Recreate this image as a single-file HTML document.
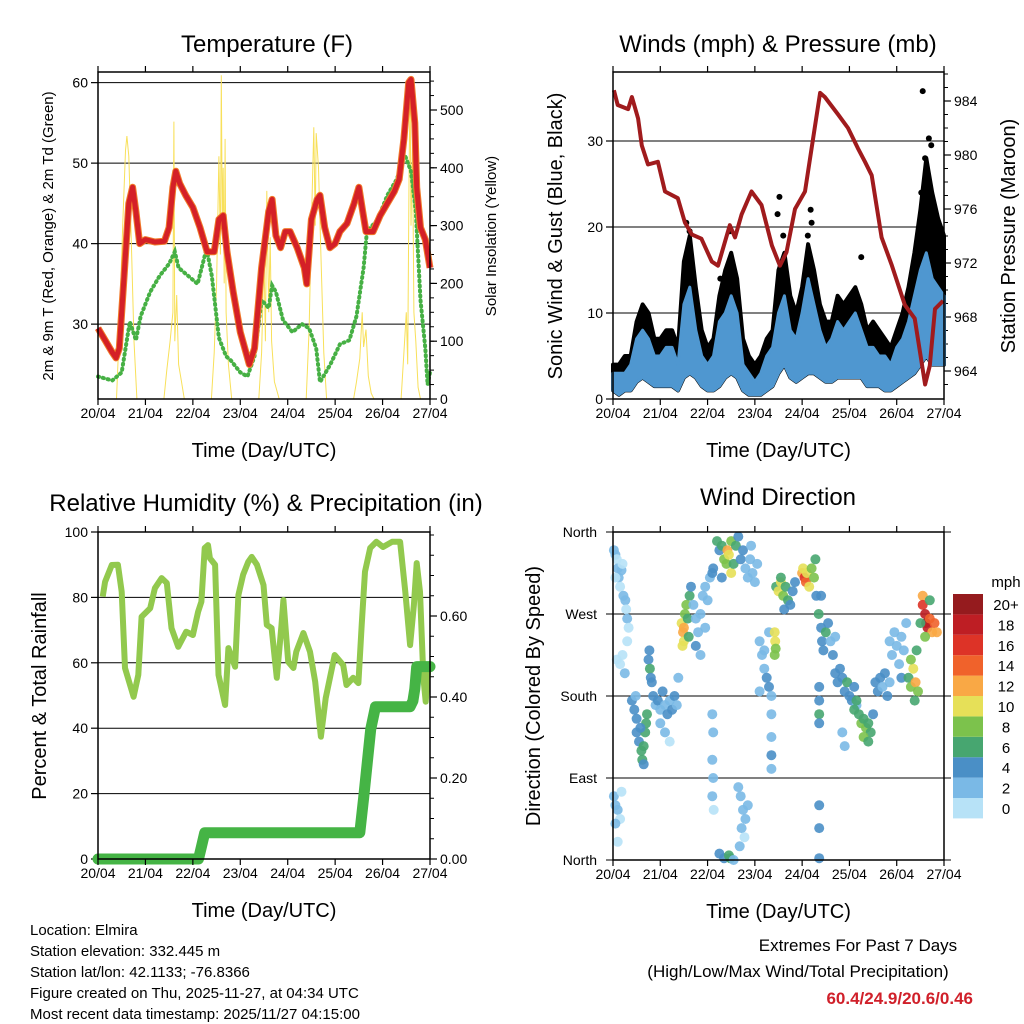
<!DOCTYPE html>
<html><head><meta charset="utf-8"><style>
html,body{margin:0;padding:0;background:#fff;}
svg{display:block;font-family:"Liberation Sans",Arial,sans-serif;}
</style></head><body>
<svg id="c" width="1024" height="1024" viewBox="0 0 1024 1024" xmlns="http://www.w3.org/2000/svg">
<rect width="1024" height="1024" fill="#fff"/>
</svg>
<script>
// ---- Temperature panel data ----
const tempT=[0,0.15,0.3,0.38,0.45,0.55,0.65,0.73,0.8,0.88,1.0,1.2,1.4,1.5,1.58,1.64,1.72,1.85,2.0,2.15,2.3,2.45,2.55,2.64,2.72,2.85,3.0,3.19,3.3,3.45,3.6,3.67,3.75,3.85,3.95,4.05,4.2,4.35,4.4,4.5,4.62,4.68,4.78,4.89,5.0,5.1,5.25,5.4,5.5,5.58,5.65,5.8,5.95,6.1,6.25,6.35,6.45,6.55,6.6,6.68,6.72,6.8,6.9,7.0];
const tempV=[29.5,28,26.5,25.8,27,36,45,47,44,40,40.5,40.2,40.3,42,47,49,47.5,46,44.5,42,39,39,43,43.5,39,34,29,25,27,37,44,45.5,41,39.5,41.5,41.5,39.5,37,35,43,45.5,46,42,39.5,40,41.5,42.5,45,47,44,41.5,41.5,43.5,45,46.5,48,53,60,60.4,55,47,42,40.5,37];
const dewT=[0,0.3,0.5,0.67,0.8,0.9,1.1,1.3,1.5,1.62,1.7,1.9,2.1,2.29,2.4,2.55,2.7,2.8,3.0,3.15,3.3,3.45,3.6,3.67,3.75,3.9,4.1,4.3,4.45,4.6,4.68,4.9,5.1,5.3,5.45,5.6,5.67,5.9,6.1,6.3,6.47,6.6,6.7,6.8,6.9,6.95,7.0];
const dewV=[23.5,23,24,30.3,28,31,34,36,37.5,39,37,36,35,39.4,36,28.3,26,25.5,24,23.5,26,33,32,34.8,34,30.5,29,30,29.5,27,22.8,25,27.5,28,31,37,41.5,43,46,48,51,49,44,33,27,22.5,24];
const solarT=[0,0.39,0.45,0.52,0.58,0.61,0.65,0.7,0.76,0.82,1.39,1.45,1.52,1.58,1.6,1.62,1.66,1.7,1.76,1.82,2.39,2.45,2.5,2.55,2.58,2.6,2.62,2.64,2.66,2.68,2.7,2.75,2.82,3.39,3.45,3.5,3.53,3.56,3.6,3.63,3.66,3.72,3.82,4.39,4.45,4.5,4.55,4.58,4.6,4.65,4.7,4.76,4.82,5.39,5.45,5.52,5.57,5.6,5.65,5.7,5.76,5.82,6.39,6.45,6.5,6.53,6.56,6.58,6.6,6.63,6.66,6.7,6.75,6.8,7.0];
const solarV=[0,0,120,300,430,455,420,280,100,0,0,50,100,150,480,100,180,60,30,0,0,80,200,420,250,560,300,400,200,450,150,60,0,0,80,250,100,360,150,280,100,30,0,0,120,300,470,300,460,400,250,80,0,0,30,70,150,90,120,40,10,0,0,80,150,60,400,540,300,450,150,100,20,0,0];
const dayLabels=["20/04","21/04","22/04","23/04","24/04","25/04","26/04","27/04"];
const tempTicks=[30,40,50,60];
const solarTicks=[0,100,200,300,400,500];
// ---- Winds panel data ----
const windT=[0,0.125,0.25,0.375,0.5,0.625,0.75,0.875,1,1.125,1.25,1.375,1.5,1.625,1.75,1.875,2,2.125,2.25,2.375,2.5,2.625,2.75,2.875,3,3.125,3.25,3.375,3.5,3.625,3.75,3.875,4,4.125,4.25,4.375,4.5,4.625,4.75,4.875,5,5.125,5.25,5.375,5.5,5.625,5.75,5.875,6,6.125,6.25,6.375,6.5,6.625,6.75,6.875,7];
const windLo=[1,0.5,1,1,2,2.5,2,1.5,1.5,1.5,1.5,1,2.5,3,2.5,1.5,1,1,1.5,2.5,3,2.5,1,0.5,0.5,0.5,1,1.5,3,4,2.5,2,2.5,3,3,2.5,2,2,2.5,2.5,2.5,2.5,2.5,1.5,1.5,1.5,1,1,1.5,2,2.5,3,4,5,4,4,4];
const windHi=[3,3,3,4,7,8,7,5,5,6,6,4,11,13,8,5,4,5,9,10,12,10,4,3,2,3,5,6,10,12,8,7,10,14,11,8,6,7,9,8,9,10,8,6,6,5,5,4,6,7,9,12,15,17,14,13,12];
const gustHi=[4,4,5,5,9,11,10,7,7,8,8,6,16,19,13,8,6,7,12,15,17,14,7,5,4,5,7,8,15,17,12,10,13,18,15,11,9,9,12,11,12,13,11,8,9,8,7,6,8,10,13,17,22,28,24,21,19];
const gustOutT=[6.55,6.68,6.73,6.6,3.52,3.48,4.18,4.2,5.25,2.27,2.47,6.62,6.7,6.78,1.55,1.62,3.6,4.12,6.52];
const gustOutV=[35.8,30.3,29.5,28,23.5,21.5,22,20.5,16.5,14,19.5,26,24,22,20.5,19.5,19,19,24];
const presT=[0.02,0.1,0.32,0.4,0.53,0.61,0.74,0.95,1.1,1.37,1.52,1.67,1.87,2.09,2.22,2.47,2.58,2.72,2.93,3.14,3.36,3.53,3.67,3.85,4.06,4.2,4.38,4.48,4.76,4.97,5.18,5.33,5.47,5.68,5.89,6.17,6.38,6.6,6.7,6.81,6.98];
const presV=[984.8,983.7,983.4,984.3,982.7,980.7,979.3,979.5,977.3,976.8,975,974.1,973.8,972.1,971.8,974.8,973.9,975.6,977.3,976.3,973.3,971.8,972.8,976,977.3,980.5,984.6,984.3,983,982,980.5,979.5,978.5,973.9,971.9,968.9,967.9,963,964.4,968.6,969.2];
const windTicks=[0,10,20,30];
const presTicks=[964,968,972,976,980,984];
// ---- RH / precip data ----
const rhT=[0.1,0.15,0.29,0.42,0.5,0.57,0.75,0.85,0.92,1.1,1.2,1.34,1.45,1.55,1.69,1.86,2.0,2.11,2.18,2.25,2.32,2.36,2.47,2.54,2.68,2.75,2.89,2.96,3.06,3.17,3.24,3.35,3.49,3.56,3.66,3.77,3.87,3.91,4.01,4.12,4.18,4.33,4.47,4.58,4.7,4.8,4.99,5.17,5.24,5.38,5.49,5.56,5.63,5.74,5.87,6.01,6.2,6.37,6.48,6.58,6.66,6.72,6.79,6.86,6.91,6.97];
const rhV=[80.2,84.8,89.9,90,81.7,58.4,49.6,56.3,74.1,76.7,82.8,85.9,84.4,70.6,64.9,69.5,68.5,75.6,78.7,95.1,96,92,90,56.3,47.1,64.5,58.8,80.7,86.9,90.9,92.4,90,83.8,71.6,70.6,55.4,71.6,79.2,60.3,58.4,63.4,69.1,63.4,54.2,37.4,49.2,62.4,59.3,53.2,55.4,53.8,71.6,87.9,95.1,97,95.4,97,97,81.7,65.4,77.7,90.5,81.7,55.4,48.1,59.3];
const prT=[0,2.12,2.18,2.25,5.52,5.6,5.75,5.85,6.58,6.64,6.68,6.72,7.0];
const prV=[0,0,0.03,0.065,0.065,0.15,0.32,0.376,0.376,0.39,0.42,0.475,0.475];
const rhTicks=[0,20,40,60,80,100];
const prTicks=[0,0.2,0.4,0.6];
// ---- Wind direction data ----
const dirT=[0.02,0.05,0.08,0.1,0.12,0.15,0.18,0.2,0.05,0.22,0.26,0.28,0.3,0.33,0.3,0.08,0.15,0.25,0.2,0.02,0.05,0.1,0.15,0.05,0.1,0.18,
0.4,0.45,0.5,0.5,0.55,0.6,0.62,0.65,0.68,0.7,0.72,0.58,0.48,0.65,0.75,0.78,0.8,0.82,0.77,
0.85,0.9,0.95,1.0,1.05,1.1,1.15,1.2,1.25,1.3,1.35,1.0,1.1,1.2,1.38,
1.45,1.48,1.5,1.52,1.55,1.58,1.6,1.62,1.5,1.47,1.65,
1.7,1.75,1.8,1.85,1.9,1.95,2.0,2.05,2.1,1.75,1.85,1.95,2.12,
2.1,2.12,2.1,2.12,2.1,2.13,
2.2,2.25,2.3,2.35,2.4,2.42,2.45,2.5,2.5,2.55,2.6,2.65,2.7,2.75,2.8,2.85,2.3,
2.9,2.95,3.0,3.05,2.92,
2.65,2.7,2.75,2.8,2.72,2.78,2.85,2.68,
2.25,2.35,2.45,2.48,2.55,
3.1,3.15,3.2,3.25,3.3,3.35,3.2,3.1,3.3,
3.35,3.35,3.35,3.35,
3.42,3.43,3.44,3.42,
3.45,3.5,3.55,3.6,3.65,3.7,3.75,3.8,3.85,3.55,3.62,
4.0,4.02,4.05,4.08,4.1,4.15,4.2,4.25,4.28,
4.3,4.35,4.4,4.42,4.45,4.5,4.55,4.6,4.65,4.7,4.4,
4.36,4.36,4.36,4.36,4.36,4.36,4.36,
4.7,4.75,4.8,4.85,4.9,4.95,5.0,5.05,5.1,5.15,4.85,4.9,
5.1,5.15,5.2,5.25,5.3,5.35,5.4,5.45,5.5,5.3,5.4,
5.55,5.6,5.65,5.7,5.75,5.8,5.85,
5.85,5.9,5.95,6.0,6.05,6.1,6.15,6.2,6.1,
6.25,6.3,6.35,6.4,6.45,6.3,6.42,6.38,
6.55,6.55,6.6,6.62,6.65,6.7,6.75,6.8,6.85,6.6,6.7,6.5];
const dirD=[340,335,330,320,310,300,318,325,310,290,285,275,265,255,240,220,215,205,225,70,60,55,45,40,20,75,
175,165,155,140,130,120,110,125,140,150,160,145,180,105,220,210,200,195,230,
180,170,175,165,185,170,160,175,165,180,170,150,140,130,200,
260,250,240,270,280,265,245,290,255,235,300,
280,265,250,270,290,300,285,310,315,235,225,255,320,
160,140,110,90,70,55,
350,340,345,330,325,340,335,350,315,325,345,355,330,340,320,310,310,
330,315,305,325,345,
80,70,55,45,35,25,60,15,
7,2,5,2,0,
240,225,210,200,190,180,230,185,250,
160,135,115,100,
250,240,232,225,
300,295,305,290,300,285,280,295,305,310,275,
315,320,310,305,315,300,320,310,330,
290,270,255,240,230,250,260,240,225,245,290,
190,175,160,150,60,35,2,
205,195,210,200,185,195,180,175,190,170,140,125,
165,175,160,150,155,145,150,140,160,135,130,
195,185,200,190,205,180,195,
240,225,250,235,215,245,230,260,200,
200,190,210,195,185,220,230,175,
290,280,270,260,255,265,250,260,250,245,285,260];
const dirS=[2,2,1,2,2,1,2,1,1,2,2,1,2,1,1,1,1,2,1,2,3,2,1,3,1,1,
4,4,5,4,5,6,6,7,6,7,6,5,3,5,5,6,5,4,4,
4,3,4,3,4,3,4,3,4,4,3,2,2,1,2,
10,12,11,9,8,7,6,6,13,10,5,
3,2,3,2,3,2,2,3,4,4,2,2,4,
2,2,2,2,2,1,
6,5,7,8,9,12,10,8,10,7,6,4,4,5,2,3,4,
3,2,3,2,2,
2,2,3,2,2,1,2,2,
4,4,6,6,2,
2,3,2,4,4,3,2,2,2,
2,2,4,2,
10,10,9,8,
7,10,11,8,6,6,4,4,5,6,4,
12,10,16,14,11,10,9,8,6,
5,6,5,4,4,6,4,3,4,2,4,
4,5,6,4,4,4,4,
4,4,4,5,4,6,4,5,4,3,2,2,
6,7,6,8,7,8,7,6,5,8,6,
4,4,4,3,4,4,3,
2,2,2,3,2,2,2,2,4,
6,8,10,12,8,9,6,6,
12,16,18,20,18,14,13,14,12,8,6,7];
const dirLabels=["North","East","South","West","North"];
const cbLabels=["0","2","4","6","8","10","12","14","16","18","20+"];
const cbColors=["#b7e2f7","#7ab9e6","#4a8fc6","#47a670","#7cc24c","#e6e058","#f9a845","#f0622b","#dd3327","#be1e24","#951b1e"];

const svg=document.getElementById('c');
const NS='http://www.w3.org/2000/svg';
function mk(tag,attrs,parent,text){const e=document.createElementNS(NS,tag);for(const k in attrs)e.setAttribute(k,attrs[k]);if(text!==undefined)e.textContent=text;(parent||svg).appendChild(e);return e;}
function grp(name){const g=document.createElementNS(NS,'g');


svg.appendChild(g);return g;}
function txt(g,x,y,s,size,anchor,name,extra){const t=mk('text',Object.assign({x:x,y:y,'font-size':size,'text-anchor':anchor||'middle',fill:'#000'},extra||{}),g,s);


return t;}
function pts(ts,vs,fx,fy){return ts.map((t,i)=>fx(t).toFixed(1)+','+fy(vs[i]).toFixed(1)).join(' ');}

function frame(g,P,name){
  const x=P.x0,y=P.y0,w=P.x1-P.x0,h=P.y1-P.y0;
  for(let d=0;d<=7;d++){const xx=x+d*w/7;
    mk('line',{x1:xx,y1:P.y0,x2:xx,y2:P.y0-6,stroke:'#000','stroke-width':1.2},g);
    mk('line',{x1:xx,y1:P.y1,x2:xx,y2:P.y1+6,stroke:'#000','stroke-width':1.2},g);
    txt(g,xx,P.y1+19,dayLabels[d],14,'middle','x-tick-label');
  }
  const r=mk('rect',{x:x,y:y,width:w,height:h,fill:'none',stroke:'#000','stroke-width':1.5},g);
  
  
  txt(g,(P.x0+P.x1)/2,P.y1+58,'Time (Day/UTC)',20,'middle','x-axis-title');
}
function leftTicks(g,P,vals,fy,fmt,grid){vals.forEach(v=>{const yy=fy(v);
  mk('line',{x1:P.x0-7,y1:yy,x2:P.x0,y2:yy,stroke:'#000','stroke-width':1.2},g);
  if(grid) mk('line',{x1:P.x0,y1:yy,x2:P.x1,y2:yy,stroke:'#000','stroke-width':1},g);
  txt(g,P.x0-10,yy+5,fmt(v),14,'end','y-tick-label');});}
function rightTicks(g,P,vals,fy,fmt,minor){vals.forEach(v=>{const yy=fy(v);
  mk('line',{x1:P.x1,y1:yy,x2:P.x1+7,y2:yy,stroke:'#000','stroke-width':1.2},g);
  txt(g,P.x1+10,yy+5,fmt(v),14,'start','y2-tick-label');});
  (minor||[]).forEach(v=>{const yy=fy(v);mk('line',{x1:P.x1,y1:yy,x2:P.x1+4,y2:yy,stroke:'#000','stroke-width':1},g);});}

// ================= Panel 1: Temperature =================
(function(){
const P={x0:98,x1:430,y0:72,y1:399};
const g=grp('temperature-panel');
const fx=t=>P.x0+t*(P.x1-P.x0)/7;
const fy=v=>399-(v-20.7)*8.05;
const fs=v=>399-v*0.578;
txt(g,267,52,'Temperature (F)',24,'middle','temperature-title');
leftTicks(g,P,tempTicks,fy,v=>v,true);
const mn=[];for(let s=0;s<=550;s+=25)mn.push(s);
rightTicks(g,P,solarTicks,fs,v=>v,mn);
const sl=mk('polyline',{points:pts(solarT,solarV,fx,fs),fill:'none',stroke:'#f8e05a','stroke-width':1},g);


const dw=mk('polyline',{points:pts(dewT,dewV,fx,fy),fill:'none',stroke:'#46b044','stroke-width':4,'stroke-dasharray':'1 4','stroke-linecap':'round'},g);


const t9=mk('polyline',{points:pts(tempT,tempV,fx,fy),fill:'none',stroke:'#f07a2a','stroke-width':7,'stroke-linejoin':'round'},g);


const t2=mk('polyline',{points:pts(tempT,tempV,fx,fy),fill:'none',stroke:'#d42027','stroke-width':5,'stroke-linejoin':'round'},g);


frame(g,P,'temperature');
txt(g,0,0,'2m & 9m T (Red, Orange) & 2m Td (Green)',15,'middle','y-axis-title',{transform:'translate(53,236) rotate(-90)'});
txt(g,0,0,'Solar Insolation (Yellow)',15,'middle','y2-axis-title',{transform:'translate(496,236) rotate(-90)'});
})();

// ================= Panel 2: Winds =================
(function(){
const P={x0:613,x1:944,y0:72,y1:399};
const g=grp('winds-panel');
const fx=t=>P.x0+t*(P.x1-P.x0)/7;
const fy=v=>399-v*8.6;
const fp=p=>101+(984-p)*13.5;
txt(g,778,52,'Winds (mph) & Pressure (mb)',24,'middle','winds-title');
leftTicks(g,P,windTicks,fy,v=>v,true);
const mn=[];for(let p=963;p<=986;p++)mn.push(p);
rightTicks(g,P,presTicks,fp,v=>v,mn);
const gp=mk('polygon',{points:pts(windT,gustHi,fx,fy)+' '+pts(windT.slice().reverse(),windLo.slice().reverse(),fx,fy),fill:'#000',stroke:'#000','stroke-width':4,'stroke-linejoin':'round'},g);


gustOutT.forEach((t,i)=>{const c=mk('circle',{cx:fx(t),cy:fy(gustOutV[i]),r:3,fill:'#000'},g);

});
const bp=mk('polygon',{points:pts(windT,windHi,fx,fy)+' '+pts(windT.slice().reverse(),windLo.slice().reverse(),fx,fy),fill:'#4f97d0',stroke:'#4f97d0','stroke-width':3,'stroke-linejoin':'round'},g);


const pl=mk('polyline',{points:pts(presT,presV,fx,fp),fill:'none',stroke:'#a01b1d','stroke-width':4,'stroke-linejoin':'round'},g);


frame(g,P,'winds');
txt(g,0,0,'Sonic Wind & Gust (Blue, Black)',20,'middle','y-axis-title',{transform:'translate(562,236) rotate(-90)'});
txt(g,0,0,'Station Pressure (Maroon)',20,'middle','y2-axis-title',{transform:'translate(1015,236) rotate(-90)'});
})();

// ================= Panel 3: RH & Precip =================
(function(){
const P={x0:98,x1:430,y0:532,y1:859};
const g=grp('humidity-precip-panel');
const fx=t=>P.x0+t*(P.x1-P.x0)/7;
const fy=v=>859-v*3.27;
const fp=v=>859-v*405;
txt(g,266,511,'Relative Humidity (%) & Precipitation (in)',24,'middle','humidity-title');
leftTicks(g,P,rhTicks,fy,v=>v,true);
const mn=[];for(let p=0;p<=0.81;p+=0.05)mn.push(p);
rightTicks(g,P,prTicks,fp,v=>v.toFixed(2),mn);
const rl=mk('polyline',{points:pts(rhT,rhV,fx,fy),fill:'none',stroke:'#92c94e','stroke-width':6,'stroke-linejoin':'round'},g);


const pr=mk('polyline',{points:pts(prT,prV,fx,fp),fill:'none',stroke:'#45b445','stroke-width':11,'stroke-linejoin':'round','stroke-linecap':'round'},g);


frame(g,P,'humidity');
txt(g,0,0,'Percent & Total Rainfall',20,'middle','y-axis-title',{transform:'translate(46,696) rotate(-90)'});
})();

// ================= Panel 4: Wind direction =================
(function(){
const P={x0:613,x1:944,y0:532,y1:860};
const g=grp('wind-direction-panel');
const fx=t=>P.x0+t*(P.x1-P.x0)/7;
const fy=d=>860-d*0.9111;
txt(g,778,505,'Wind Direction',24,'middle','wind-direction-title');
dirLabels.forEach((l,i)=>{const yy=fy(i*90);
  mk('line',{x1:P.x0-7,y1:yy,x2:P.x1,y2:yy,stroke:'#000','stroke-width':1},g);
  mk('line',{x1:P.x1,y1:yy,x2:P.x1+7,y2:yy,stroke:'#000','stroke-width':1},g);
  txt(g,P.x0-16,yy+5,l,14,'end','y-tick-label');});
dirT.forEach((t,i)=>{const b=Math.min(10,Math.floor(dirS[i]/2));
  const c=mk('circle',{cx:fx(t).toFixed(1),cy:fy(dirD[i]).toFixed(1),r:5,fill:cbColors[b],'fill-opacity':0.9},g);
  
  });
frame(g,P,'wind-direction');
txt(g,0,0,'Direction (Colored By Speed)',20,'middle','y-axis-title',{transform:'translate(540,696) rotate(-90)'});
const cb=grp('speed-colorbar');
txt(cb,1006,587,'mph',15,'middle','colorbar-title');
cbColors.forEach((c,i)=>{const yy=798-i*20.4;
  const r=mk('rect',{x:953,y:yy,width:30,height:20.4,fill:c},cb);
  
  
  txt(cb,1006,yy+16,cbLabels[i],15,'middle','colorbar-label');});
})();

// ================= Footer text =================
(function(){
const g=grp('station-info');
const lines=['Location: Elmira','Station elevation: 332.445 m','Station lat/lon: 42.1133; -76.8366','Figure created on Thu, 2025-11-27, at 04:34 UTC','Most recent data timestamp: 2025/11/27 04:15:00'];
lines.forEach((l,i)=>txt(g,30,935+i*21,l,15,'start','station-info-line'));
const e=grp('extremes-summary');
txt(e,858,951,'Extremes For Past 7 Days',17,'middle','extremes-title');
txt(e,798,977,'(High/Low/Max Wind/Total Precipitation)',17,'middle','extremes-subtitle');
txt(e,973,1004,'60.4/24.9/20.6/0.46',17,'end','extremes-values',{fill:'#d0202a','font-weight':'bold'});
})();
</script>
</body></html>
